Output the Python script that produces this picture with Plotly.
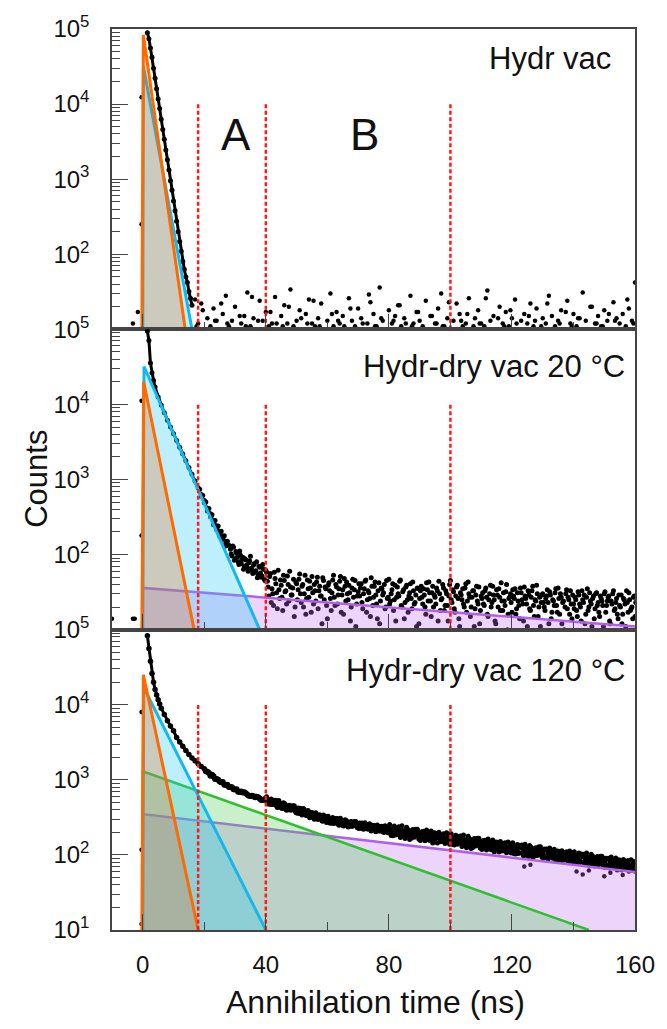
import numpy as np
import plotly.graph_objects as go
from plotly.subplots import make_subplots

FONT = "Liberation Sans, Arial, sans-serif"
INK = "#111111"
AXC = "#444444"

# ---------------- data ----------------
# Panel 1 : Hydr vac
p1_decay_x = [1.5, 2.0, 2.5, 3.0, 3.5, 4.0, 4.5, 5.0, 5.5, 6.0, 6.5, 7.0, 7.5, 8.0, 8.5,
              9.0, 9.5, 10.0, 10.5, 11.0, 11.5, 12.0, 12.5, 13.0, 13.5, 14.0, 14.5, 15.0, 15.5, 16.0]
p1_decay_y = [89000, 74000, 56000, 42000, 30000, 22000, 16000, 11700, 8700, 6300, 4600, 3400,
              2450, 1820, 1320, 955, 710, 513, 380, 275, 200, 148, 110, 80, 63, 50, 42, 32, 26, 21]
p1_bg_start = 17          # one channel per ns
p1_bg_y = [25, 12, 22, 10, 14, 11, 19, 13, 10, 16, 28, 11,
           13, 20, 10, 12, 15, 31, 11, 14, 10, 24, 13, 17,
           11, 12, 27, 10, 15, 21, 12, 34, 11, 13, 18, 10,
           16, 25, 12, 11, 14, 22, 10, 13, 30, 11, 17, 12,
           15, 10, 26, 13, 11, 19, 14, 10, 12, 23, 16, 11,
           36, 13, 10, 18, 12, 15, 21, 11, 14, 10, 28, 12,
           17, 13, 11, 24, 10, 15, 12, 19, 30, 11, 14, 10,
           13, 22, 16, 11, 12, 26, 10, 14, 18, 12, 11, 33,
           13, 15, 10, 20, 12, 17, 11, 14, 25, 10, 13, 16,
           12, 22, 11, 19, 10, 14, 12, 28, 15, 11, 13, 18,
           10, 24, 12, 16, 11, 14, 31, 13, 10, 20, 12, 15,
           11, 18, 13, 10, 23, 14, 12, 16, 11, 19, 13, 42]
p1_bg2_start = 17.5       # one channel every 2 ns
p1_bg2_y = [11, 18, 10, 13, 22, 12, 10, 15, 11, 27, 13, 10,
            17, 12, 11, 20, 10, 14, 12, 24, 11, 10, 16, 13,
            11, 19, 10, 12, 29, 11, 14, 10, 13, 21, 12, 11,
            17, 10, 15, 12, 11, 23, 10, 13, 16, 11, 12, 26,
            10, 14, 11, 18, 12, 10, 15, 13, 11, 22, 10, 12,
            17, 11, 14, 10, 20, 12, 11, 16, 13, 10, 25, 12]
p1_extra_x = [-3.2, -1.6, -0.4, -0.4]
p1_extra_y = [12, 17, 12300, 250]
p1_orange_x = [-0.3, 0.2, 13.8]
p1_orange_y = [10, 83000, 10]
p1_cyan_x = [0.0, 0.2, 16.0]
p1_cyan_y = [10, 32000, 10]

# Panel 2 : Hydr-dry vac 20 °C
p2_decay_x = [1.5, 2.0, 2.5, 3.0, 3.5, 4.0] + list(range(5, 29))
p2_decay_y = [95000, 71000, 35500, 26300, 20900, 17000,
              12600, 9800, 7760, 6170, 5010, 4070, 3310, 2690, 2190, 1780, 1450, 1175,
              955, 776, 631, 525, 405, 350, 272, 240, 195, 176, 142, 133]
p2_scat_start = 18.5      # half-ns channels
p2_scat_y = [740, 600, 610, 490, 500, 380, 410, 320, 340, 250, 285, 215, 240, 175, 205, 160, 178, 130, 150]
p2_noise_start = 28.5     # half-ns channels
p2_noise_y = [118, 96, 125, 88, 104, 80, 112, 76, 92, 70, 85, 66, 78, 95, 62, 72, 58, 80, 54, 68, 50, 74, 47, 62,
              44, 28, 56, 35, 21, 48, 31, 62, 26, 39, 18, 45, 33, 52, 24, 37, 29, 47, 20, 41,
              34, 55, 23, 40, 30, 16, 46, 27, 36, 51, 22, 33, 43, 19, 38, 28, 49, 25, 35, 14,
              42, 26, 31, 53, 21, 37, 29, 44, 17, 34, 48, 24, 30, 39, 13, 36, 27, 45, 22, 32,
              28, 41, 19, 35, 46, 25, 31, 15, 38, 27, 43, 22, 33, 12, 36, 29, 40, 20, 26, 47,
              24, 34, 18, 39, 27, 30, 44, 21, 32, 14, 37, 25, 28, 41, 19, 33, 23, 11, 35, 26,
              38, 22, 29, 16, 34, 43, 24, 31, 20, 27, 36, 13, 30, 25, 40, 18, 33, 21, 28, 45,
              23, 32, 17, 37, 26, 11, 29, 35, 20, 41, 24, 30, 15, 27, 33, 19, 38, 22, 12, 28,
              31, 21, 36, 16, 25, 39, 23, 29, 13, 34, 20, 27, 42, 18, 24, 32, 10, 26, 30, 17,
              28, 35, 19, 24, 14, 31, 22, 37, 26, 11, 29, 18, 33, 21, 25, 39, 15, 27, 23, 30,
              20, 26, 34, 12, 29, 17, 24, 31, 21, 36, 16, 27, 23, 10, 30, 19, 25, 33, 14, 22,
              27, 18, 32, 22, 13, 25, 29, 16, 35, 20, 24, 11, 28, 19, 31, 23, 15, 26, 21, 30,
              17, 24, 28, 12, 22, 33, 19, 26, 14, 21, 29, 16, 25, 11, 23, 31, 18, 20, 27, 15]
p2_noise2_start = 28.75   # half-ns channels, offset
p2_noise2_y = [102, 130, 84, 110, 92, 74, 98, 86, 64, 88, 72, 60, 83, 66, 56, 76, 61, 49, 70, 57, 52, 64, 45, 58,
               37, 51, 23, 30, 58, 41, 19, 34, 46, 27, 53, 32, 22, 40, 60, 29, 36, 15, 43, 25,
               47, 30, 38, 20, 53, 26, 35, 44, 17, 31, 40, 24, 50, 33, 28, 12, 45, 37, 21, 39,
               33, 18, 46, 27, 40, 22, 35, 51, 29, 16, 38, 43, 25, 31, 20, 47, 34, 11, 28, 41,
               36, 23, 30, 44, 17, 33, 26, 49, 21, 38, 29, 14, 42, 24, 35, 31, 19, 45, 27, 22,
               30, 41, 25, 13, 37, 28, 46, 20, 34, 23, 39, 17, 31, 26, 43, 22, 29, 36, 12, 33,
               27, 35, 20, 42, 24, 31, 15, 38, 29, 22, 33, 44, 18, 26, 36, 21, 30, 13, 40, 25,
               34, 19, 28, 39, 14, 31, 25, 22, 36, 17, 43, 27, 20, 33, 11, 29, 24, 37, 18, 26,
               22, 33, 27, 15, 30, 20, 38, 25, 12, 29, 35, 18, 24, 31, 21, 40, 16, 27, 23, 34,
               26, 16, 31, 21, 36, 25, 13, 28, 22, 33, 19, 27, 38, 15, 24, 30, 20, 11, 29, 23,
               18, 28, 23, 32, 14, 25, 21, 35, 17, 26, 30, 12, 24, 20, 34, 27, 16, 22, 29, 19,
               25, 15, 29, 20, 33, 23, 12, 27, 18, 31, 22, 26, 14, 30, 21, 17, 28, 24, 11, 32,
               21, 27, 13, 24, 30, 18, 23, 16, 29, 20, 12, 26, 22, 33, 17, 25, 19, 14, 28, 23]
p2_extra_x = [-10.0, -3.2, -2.6, -0.4, -0.4]
p2_extra_y = [14, 14, 14, 11200, 180]
p2_orange_x = [-0.3, 0.3, 16.7]
p2_orange_y = [10, 20000, 10]
p2_cyan_x = [0.0, 0.4, 38.0]
p2_cyan_y = [10, 32000, 10]
p2_purple_x = [0.0, 0.0, 160.0, 160.0]
p2_purple_y = [10, 36, 11, 10]

# Panel 3 : Hydr-dry vac 120 °C
p3_decay_x = [1.5, 2.0, 2.5, 3.0, 3.5, 4.0, 4.5, 5.0, 5.5, 6.0] + list(range(7, 21))
p3_decay_y = [83000, 56000, 38000, 26000, 20000, 16000, 13500, 11700, 10200, 9000,
              7400, 6100, 5200, 4500, 3650, 3200, 2800, 2450, 2180, 1960, 1790, 1640, 1500, 1400]
p3_a_start = 21           # channels at whole ns
p3_a_y = [1283, 1137, 1113, 1024, 947, 939, 854, 800, 794, 745,
          692, 700, 684, 633, 607, 604, 594, 563, 540, 554,
          531, 477, 511, 478, 447, 475, 429, 402, 425, 400,
          363, 386, 383, 344, 326, 336, 338, 311, 293, 316,
          296, 269, 292, 277, 262, 283, 258, 245, 263, 250,
          230, 249, 251, 229, 220, 230, 235, 219, 210, 230,
          218, 193, 218, 205, 192, 214, 190, 178, 197, 186,
          167, 188, 193, 171, 164, 175, 181, 165, 157, 177,
          165, 146, 164, 154, 145, 162, 144, 135, 150, 141,
          127, 142, 145, 130, 124, 132, 137, 125, 118, 135,
          126, 107, 127, 118, 109, 126, 109, 100, 116, 107,
          94, 109, 114, 97, 92, 101, 106, 95, 88, 105,
          96, 82, 96, 89, 82, 96, 83, 75, 87, 81,
          71, 83, 86, 74, 70, 77, 81, 72, 67, 80]
p3_b_start = 20.5         # channels at half ns
p3_b_y = [1297, 1229, 1166, 1029, 1004, 932, 857, 858, 803, 751,
          750, 687, 677, 663, 612, 616, 586, 586, 538, 550,
          509, 519, 528, 458, 480, 450, 413, 447, 420, 394,
          415, 365, 369, 369, 326, 342, 321, 333, 286, 308,
          282, 291, 300, 263, 280, 266, 247, 271, 258, 245,
          262, 234, 240, 244, 219, 233, 222, 233, 204, 222,
          203, 214, 225, 190, 209, 196, 178, 203, 191, 180,
          198, 172, 180, 185, 162, 178, 168, 179, 150, 169,
          153, 162, 169, 144, 158, 149, 135, 154, 145, 137,
          151, 130, 136, 140, 123, 135, 127, 135, 113, 129,
          114, 123, 132, 106, 122, 113, 99, 120, 111, 102,
          118, 97, 104, 109, 90, 103, 95, 105, 83, 98,
          86, 94, 101, 80, 92, 85, 75, 91, 84, 77,
          89, 73, 79, 83, 69, 78, 73, 80, 63, 75]
p3_c_start = 40.25        # channels at quarter ns
p3_c_y = [594, 473, 470, 534, 532, 414, 474, 400, 398, 452,
          360, 418, 416, 334, 312, 364, 364, 299, 285, 328,
          327, 264, 265, 305, 308, 243, 282, 241, 243, 279,
          225, 266, 269, 219, 208, 246, 250, 208, 201, 235,
          254, 180, 184, 237, 244, 166, 217, 167, 172, 220,
          156, 207, 215, 156, 144, 195, 200, 151, 142, 188,
          191, 136, 139, 178, 184, 125, 164, 126, 131, 167,
          118, 157, 163, 117, 110, 148, 151, 114, 107, 141,
          145, 103, 105, 136, 139, 95, 124, 96, 99, 128,
          90, 120, 124, 90, 83, 112, 114, 86, 82, 107,
          110, 78, 80, 102, 106, 72, 95, 73, 75, 96,
          68, 90, 94, 68, 63, 85, 87, 66, 62, 82]
p3_d_start = 40.75        # channels at three-quarter ns
p3_d_y = [478, 556, 524, 428, 428, 496, 392, 457, 452, 368,
          414, 341, 341, 390, 367, 298, 299, 341, 340, 271,
          267, 314, 300, 248, 251, 295, 236, 279, 279, 230,
          263, 220, 224, 260, 248, 204, 208, 241, 244, 198,
          182, 242, 231, 171, 178, 234, 161, 218, 220, 162,
          203, 154, 161, 208, 197, 144, 150, 192, 198, 139,
          138, 183, 174, 129, 134, 177, 122, 165, 167, 123,
          154, 116, 122, 158, 149, 109, 113, 145, 149, 106,
          104, 138, 132, 97, 102, 134, 93, 125, 128, 93,
          118, 88, 93, 119, 113, 82, 85, 110, 113, 80,
          79, 106, 100, 74, 77, 102, 71, 95, 96, 70,
          89, 67, 70, 91, 86, 63, 65, 84, 86, 61]
p3_out_x = [124, 126, 141, 143, 145, 150, 152, 156, 158, -0.4, -0.4, -0.4]
p3_out_y = [70, 74, 60, 55, 62, 52, 58, 54, 60, 8000, 117, 12]
p3_orange_x = [-0.3, 0.2, 18.0]
p3_orange_y = [10, 25000, 10]
p3_cyan_x = [0.0, 0.3, 40.0]
p3_cyan_y = [10, 17000, 10]
p3_green_x = [0.0, 0.0, 145.0]
p3_green_y = [10, 1300, 10]
p3_purple_x = [0.0, 0.0, 160.0, 160.0]
p3_purple_y = [10, 350, 59, 10]

cut_x = [18, 40, 100]
cut_top = 10000
panel_labels = ["Hydr vac", "Hydr-dry vac 20 °C", "Hydr-dry vac 120 °C"]
region_labels = ["A", "B"]
ytick_vals = [10, 100, 1000, 10000, 100000]
ytick_text_upper = ["", "10<sup>2</sup>", "10<sup>3</sup>", "10<sup>4</sup>", "10<sup>5</sup>"]
ytick_text_lower = ["10<sup>1</sup>", "10<sup>2</sup>", "10<sup>3</sup>", "10<sup>4</sup>", "10<sup>5</sup>"]

# ---------------- styles ----------------
C_OR_LINE, C_OR_FILL = "#ff6a00", "rgba(250,91,0,0.25)"
C_CY_LINE, C_CY_FILL = "#12b8ee", "rgba(38,202,248,0.30)"
C_GR_LINE, C_GR_FILL = "#2fbf2f", "rgba(75,205,82,0.30)"
C_PU_LINE, C_PU_FILL = "#b260ea", "rgba(195,112,242,0.30)"

fig = make_subplots(rows=3, cols=1, shared_xaxes=True, vertical_spacing=0)


def chan(start, step, n):
    return [start + step * i for i in range(n)]


def add_dots(row, xs, ys, lines=False, size=4.5):
    fig.add_trace(go.Scatter(x=xs, y=ys, mode="lines+markers" if lines else "markers",
                             line=dict(color="black", width=3),
                             marker=dict(color="black", size=size),
                             hoverinfo="skip", showlegend=False), row=row, col=1)


def add_comp(row, xs, ys, fillc, linec, lw):
    fig.add_trace(go.Scatter(x=xs, y=ys, mode="lines", fill="toself", fillcolor=fillc,
                             line=dict(width=0), hoverinfo="skip", showlegend=False), row=row, col=1)
    lx, ly = (xs[:-1], ys[:-1]) if xs[-1] == xs[-2] else (xs, ys)
    fig.add_trace(go.Scatter(x=lx, y=ly, mode="lines", line=dict(color=linec, width=lw),
                             hoverinfo="skip", showlegend=False), row=row, col=1)


def add_cuts(row):
    xs, ys = [], []
    for c in cut_x:
        xs += [c, c, None]
        ys += [10, cut_top, None]
    fig.add_trace(go.Scatter(x=xs, y=ys, mode="lines",
                             line=dict(color="#ff1a1a", width=2.5, dash="4px,2.5px"),
                             hoverinfo="skip", showlegend=False), row=row, col=1)


# Panel 1
add_dots(1, p1_decay_x, p1_decay_y, lines=True, size=5)
add_dots(1, chan(p1_bg_start, 1, len(p1_bg_y)), p1_bg_y)
add_dots(1, chan(p1_bg2_start, 2, len(p1_bg2_y)), p1_bg2_y)
add_dots(1, p1_extra_x, p1_extra_y)
add_comp(1, p1_cyan_x, p1_cyan_y, C_CY_FILL, C_CY_LINE, 3)
add_comp(1, p1_orange_x, p1_orange_y, C_OR_FILL, C_OR_LINE, 3)
add_cuts(1)

# Panel 2
add_dots(2, p2_decay_x, p2_decay_y, lines=True, size=5)
add_dots(2, chan(p2_scat_start, 0.5, len(p2_scat_y)), p2_scat_y, size=5)
add_dots(2, chan(p2_noise_start, 0.5, len(p2_noise_y)), p2_noise_y, size=5)
add_dots(2, chan(p2_noise2_start, 0.5, len(p2_noise2_y)), p2_noise2_y, size=5)
add_dots(2, p2_extra_x, p2_extra_y)
add_comp(2, p2_purple_x, p2_purple_y, C_PU_FILL, C_PU_LINE, 2.5)
add_comp(2, p2_cyan_x, p2_cyan_y, C_CY_FILL, C_CY_LINE, 3)
add_comp(2, p2_orange_x, p2_orange_y, C_OR_FILL, C_OR_LINE, 3)
add_cuts(2)

# Panel 3
add_dots(3, p3_decay_x, p3_decay_y, lines=True, size=5.5)
add_dots(3, chan(p3_a_start, 1, len(p3_a_y)), p3_a_y, size=6)
add_dots(3, chan(p3_b_start, 1, len(p3_b_y)), p3_b_y, size=6)
add_dots(3, chan(p3_c_start, 1, len(p3_c_y)), p3_c_y, size=5)
add_dots(3, chan(p3_d_start, 1, len(p3_d_y)), p3_d_y, size=5)
add_dots(3, p3_out_x, p3_out_y)
add_comp(3, p3_purple_x, p3_purple_y, C_PU_FILL, C_PU_LINE, 2.5)
add_comp(3, p3_green_x, p3_green_y, C_GR_FILL, C_GR_LINE, 2.5)
add_comp(3, p3_cyan_x, p3_cyan_y, C_CY_FILL, C_CY_LINE, 3)
add_comp(3, p3_orange_x, p3_orange_y, C_OR_FILL, C_OR_LINE, 3)
add_cuts(3)

minor_vals = [m * 10 ** k for k in range(1, 5) for m in range(2, 10)]

for r in (1, 2, 3):
    fig.update_yaxes(type="log", range=[1, 5], tickvals=ytick_vals,
                     ticktext=ytick_text_lower if r == 3 else ytick_text_upper,
                     ticks="inside", ticklen=16, tickwidth=1, tickcolor=AXC,
                     showline=True, linecolor=AXC, linewidth=1.5, mirror=True,
                     showgrid=False, zeroline=False,
                     tickfont=dict(size=24, family=FONT, color=INK),
                     ticklabelstandoff=16,
                     minor=dict(ticks="inside", ticklen=8, tickwidth=1, tickcolor=AXC,
                                tickvals=minor_vals, showgrid=False),
                     row=r, col=1)
    fig.update_xaxes(range=[-10, 160], tick0=0, dtick=40,
                     ticks="inside", ticklen=16, tickwidth=1, tickcolor=AXC,
                     showline=True, linecolor=AXC, linewidth=1.5, mirror=True,
                     showgrid=False, zeroline=False,
                     showticklabels=(r == 3),
                     tickfont=dict(size=24, family=FONT, color=INK),
                     ticklabelstandoff=12,
                     minor=dict(ticks="inside", ticklen=8, tickwidth=1, tickcolor=AXC,
                                tick0=0, dtick=20, showgrid=False),
                     row=r, col=1)

annotations = [
    dict(text=panel_labels[0], x=0.9585, y=0.967, xanchor="right", yanchor="middle", font_size=31),
    dict(text=panel_labels[1], x=0.985, y=0.625, xanchor="right", yanchor="middle", font_size=31),
    dict(text=panel_labels[2], x=0.985, y=0.288, xanchor="right", yanchor="middle", font_size=31),
    dict(text=region_labels[0], x=0.2375, y=0.883, xanchor="center", yanchor="middle", font_size=44),
    dict(text=region_labels[1], x=0.4825, y=0.883, xanchor="center", yanchor="middle", font_size=44),
    dict(text="Counts", x=-0.145, y=0.501, xanchor="center", yanchor="middle", textangle=-90, font_size=31),
    dict(text="Annihilation time (ns)", x=0.503, y=-0.0804, xanchor="center", yanchor="middle", font_size=32),
]
for a in annotations:
    a.update(xref="paper", yref="paper", showarrow=False)
    a["font"] = dict(family=FONT, color=INK, size=a.pop("font_size"))

fig.update_layout(width=667, height=1029, margin=dict(l=112, r=24, t=22, b=99),
                  plot_bgcolor="white", paper_bgcolor="white", showlegend=False,
                  font=dict(family=FONT, color=INK), annotations=annotations)

fig.write_html("out.html")
